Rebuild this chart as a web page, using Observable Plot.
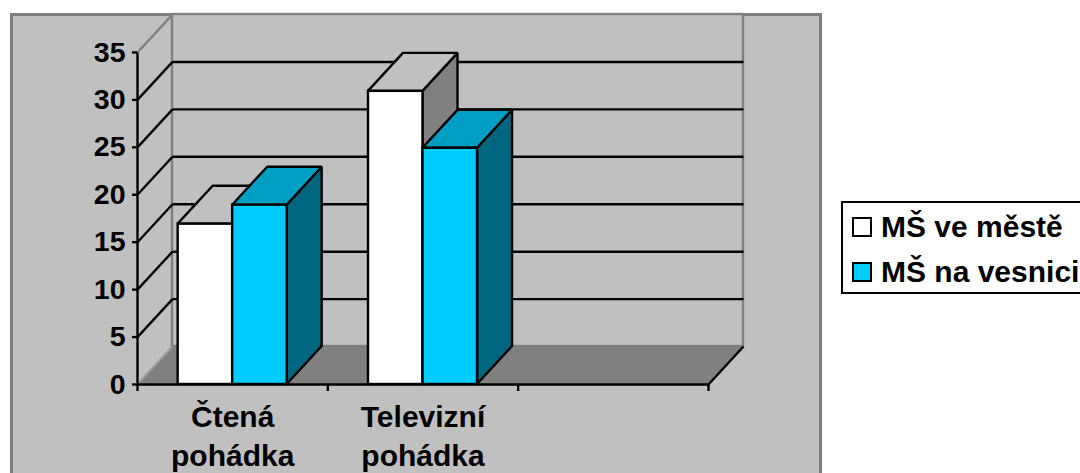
<!DOCTYPE html>
<html lang="cs">
<head>
<meta charset="utf-8">
<script src="https://cdn.jsdelivr.net/npm/d3@7"></script>
<script src="https://cdn.jsdelivr.net/npm/@observablehq/plot@0.6"></script>
<style>
html,body{margin:0;padding:0;background:#fff;overflow:hidden;width:1080px;height:473px}
#stage{position:relative;width:1080px;height:473px;overflow:hidden;font-family:"Liberation Sans",Arial,sans-serif;color:#000}
#frame{position:absolute;left:10px;top:13px;width:806px;height:480px;background:#c0c0c0;border:3px solid #808080;box-sizing:content-box;border-bottom:none}
#chart{position:absolute;left:0;top:0}
#chart svg{background:transparent;display:block}
#legend{position:absolute;left:841px;top:201px;width:260px;height:89px;border:2px solid #000;background:#fff;box-sizing:content-box}
.entry{position:absolute;left:9px;display:flex;align-items:center;font-weight:bold;font-size:30px;white-space:nowrap;line-height:34px}
.swatch{width:16px;height:16px;border:2px solid #000;margin-right:9px;flex:none}
</style>
</head>
<body>
<div id="stage">
  <div id="frame"></div>
  <div id="chart"></div>
  <div id="legend"></div>
</div>
<script>
const categories = ["Čtená\npohádka", "Televizní\npohádka"];
const slots = [0, 1, 2, 3];
const seriesNames = ["MŠ ve městě", "MŠ na vesnici"];
const mestoValues = [16.9, 30.9];
const vesniceValues = [18.9, 24.9];
const yTicks = [0, 5, 10, 15, 20, 25, 30, 35];

// Appearance of the oblique projection, in axis units
const DX = 0.1839, DY = 4, BAR = 0.2864;
const palettes = [
  {front: "#ffffff", top: "#c0c0c0", side: "#808080"},
  {front: "#00ccff", top: "#009ec3", side: "#006680"}
];
const FONT = "'Liberation Sans', Arial, sans-serif";
const line = {stroke: "#000", strokeWidth: 2.4};
const END = slots[slots.length - 1];

function barMarks(v, i, s) {
  const L = i + 0.5 - BAR + s * BAR, R = L + BAR, c = palettes[s];
  return [
    Plot.area([{x: R, y1: 0, y2: v}, {x: R + DX, y1: DY, y2: v + DY}],
      {x1: "x", y1: "y1", y2: "y2", fill: c.side, ...line, strokeLinejoin: "miter"}),
    Plot.area([{l: L, r: R, y: v}, {l: L + DX, r: R + DX, y: v + DY}],
      {x1: "l", x2: "r", y1: "y", fill: c.top, ...line, strokeLinejoin: "miter"}),
    Plot.rect([{l: L, r: R, b: 0, t: v}],
      {x1: "l", x2: "r", y1: "b", y2: "t", fill: c.front, ...line, inset: 0})
  ];
}

const gridTicks = yTicks.filter(t => t > 0 && t < 35);

const plot = Plot.plot({
  width: 1080, height: 473,
  marginLeft: 137, marginRight: 337, marginTop: 14, marginBottom: 89,
  style: {background: "transparent", fontFamily: FONT, color: "#000", overflow: "visible"},
  x: {domain: [0, END + DX], axis: null},
  y: {domain: [0, 35 + DY], axis: null},
  marks: [
    // floor
    Plot.area([{l: 0, r: END, y: 0}, {l: DX, r: END + DX, y: DY}],
      {x1: "l", x2: "r", y1: "y", fill: "#808080"}),
    // back wall
    Plot.rect([{l: DX, r: END + DX, b: DY, t: 35 + DY}],
      {x1: "l", x2: "r", y1: "b", y2: "t", fill: "#c0c0c0", stroke: "#808080", strokeWidth: 2.4, inset: 0}),
    // grid on the back wall and the left wall
    Plot.link(gridTicks, {x1: DX, x2: END + DX, y1: d => d + DY, y2: d => d + DY, ...line}),
    Plot.link(gridTicks, {x1: 0, x2: DX, y1: d => d, y2: d => d + DY, ...line}),
    Plot.link([35], {x1: 0, x2: DX, y1: d => d, y2: d => d + DY, stroke: "#808080", strokeWidth: 2.4}),
    Plot.link([0], {x1: 0, x2: DX, y1: d => d, y2: d => d + DY, stroke: "#9a9a9a", strokeWidth: 2}),
    // bars
    ...categories.flatMap((_, i) => [
      ...barMarks(mestoValues[i], i, 0),
      ...barMarks(vesniceValues[i], i, 1)
    ]),
    // axis lines
    Plot.link([0], {x1: 0, x2: 0, y1: 0, y2: 35, ...line}),
    Plot.link([0], {x1: 0, x2: END, y1: 0, y2: 0, ...line}),
    Plot.link([END], {x1: d => d, x2: d => d + DX, y1: 0, y2: DY, ...line}),
    // ticks and labels
    Plot.axisY({
      ticks: yTicks, tickSize: 5, tickPadding: 7, anchor: "left", label: null,
      strokeWidth: 2.4, fontSize: 28.5, fontWeight: "bold", fontFamily: FONT, fill: "#000", stroke: "#000"
    }),
    Plot.axisX({
      ticks: slots, tickSize: 7, anchor: "bottom", label: null, tickFormat: () => "",
      strokeWidth: 2.4, stroke: "#000"
    }),
    Plot.text(categories, {
      x: (d, i) => i + 0.5, text: d => d, frameAnchor: "bottom", lineAnchor: "top", dy: 15,
      lineHeight: 1.3, fontSize: 30, fontWeight: "bold", fontFamily: FONT, fill: "#000"
    })
  ]
});
document.getElementById("chart").appendChild(plot);

const legend = document.getElementById("legend");
seriesNames.forEach((name, i) => {
  const row = document.createElement("div");
  row.className = "entry";
  row.style.top = (i === 0 ? 7 : 52) + "px";
  const sw = document.createElement("span");
  sw.className = "swatch";
  sw.style.background = palettes[i].front;
  const label = document.createElement("span");
  label.textContent = name;
  row.append(sw, label);
  legend.appendChild(row);
});
</script>
</body>
</html>
